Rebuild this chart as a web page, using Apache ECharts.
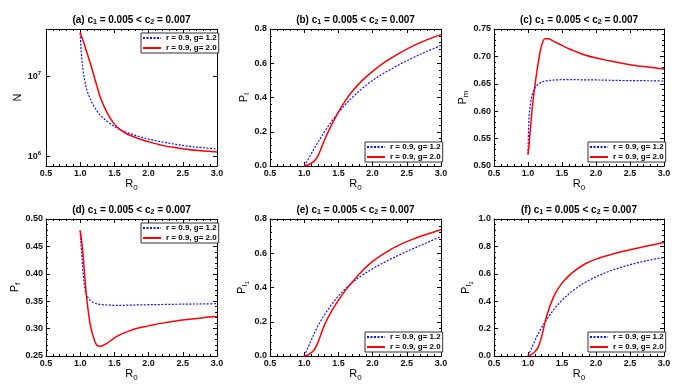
<!DOCTYPE html>
<html>
<head>
<meta charset="utf-8">
<script src="https://cdn.jsdelivr.net/npm/echarts@6/dist/echarts.min.js"></script>
<style>
  html, body { margin: 0; padding: 0; background: #fff; }
  #chart { width: 691px; height: 392px; }
</style>
</head>
<body>
<div id="chart"></div>
<script>
(function () {
  // shared R0 grid
  var r0 = [1.0, 1.01, 1.02, 1.04, 1.07, 1.1, 1.15, 1.2, 1.25, 1.3, 1.4, 1.5, 1.6, 1.7, 1.85, 2.0, 2.2, 2.4, 2.6, 2.8, 3.0];

  // (a) N
  var nBlue = [3.47e7, 2.34e7, 1.78e7, 1.2e7, 8.51e6, 6.61e6, 5.13e6, 4.22e6, 3.63e6, 3.2e6, 2.69e6, 2.34e6, 2.11e6, 1.95e6, 1.77e6, 1.63e6, 1.5e6, 1.4e6, 1.32e6, 1.27e6, 1.23e6];
  var nRed = [3.55e7, 3.35e7, 3.16e7, 2.82e7, 2.34e7, 1.95e7, 1.43e7, 1.02e7, 7.24e6, 5.25e6, 3.39e6, 2.51e6, 2.09e6, 1.86e6, 1.66e6, 1.51e6, 1.36e6, 1.27e6, 1.2e6, 1.16e6, 1.12e6];
  // (b) P_I
  var piBlue = [0, 0.007, 0.014, 0.028, 0.048, 0.069, 0.104, 0.138, 0.17, 0.202, 0.26, 0.312, 0.358, 0.399, 0.453, 0.5, 0.55, 0.594, 0.634, 0.67, 0.704];
  var piRed = [0, 0.0005, 0.0015, 0.004, 0.009, 0.016, 0.03, 0.058, 0.105, 0.155, 0.24, 0.315, 0.38, 0.435, 0.5, 0.553, 0.612, 0.661, 0.703, 0.738, 0.767];
  // (c) P_m
  var pmBlue = [0.521, 0.575, 0.597, 0.617, 0.633, 0.642, 0.649, 0.653, 0.655, 0.656, 0.657, 0.6575, 0.6575, 0.6575, 0.657, 0.657, 0.6565, 0.656, 0.6558, 0.6555, 0.655];
  var pmRed = [0.521, 0.532, 0.545, 0.575, 0.615, 0.645, 0.688, 0.72, 0.732, 0.732, 0.726, 0.72, 0.714, 0.709, 0.702, 0.697, 0.692, 0.687, 0.683, 0.68, 0.677];
  // (d) P_f
  var pfBlue = [0.479, 0.455, 0.44, 0.405, 0.372, 0.36, 0.351, 0.347, 0.345, 0.344, 0.343, 0.3425, 0.3425, 0.3428, 0.3432, 0.3436, 0.344, 0.3444, 0.3448, 0.345, 0.3455];
  var pfRed = [0.479, 0.47, 0.46, 0.437, 0.39, 0.35, 0.305, 0.282, 0.269, 0.268, 0.274, 0.283, 0.29, 0.295, 0.301, 0.305, 0.31, 0.314, 0.317, 0.32, 0.322];
  // (e) P_I1
  var pi1Blue = [0, 0.009, 0.018, 0.036, 0.063, 0.09, 0.134, 0.175, 0.21, 0.243, 0.3, 0.35, 0.392, 0.428, 0.472, 0.51, 0.553, 0.592, 0.628, 0.663, 0.698];
  var pi1Red = [0, 0.0005, 0.0015, 0.004, 0.01, 0.018, 0.038, 0.078, 0.133, 0.185, 0.262, 0.325, 0.382, 0.43, 0.498, 0.553, 0.607, 0.65, 0.684, 0.712, 0.737];
  // (f) P_I2
  var pi2Blue = [0, 0.011, 0.022, 0.044, 0.077, 0.11, 0.163, 0.207, 0.247, 0.284, 0.352, 0.407, 0.453, 0.492, 0.54, 0.578, 0.619, 0.652, 0.679, 0.701, 0.72];
  var pi2Red = [0, 0.001, 0.003, 0.008, 0.017, 0.03, 0.065, 0.14, 0.245, 0.333, 0.455, 0.532, 0.585, 0.627, 0.675, 0.707, 0.738, 0.764, 0.787, 0.808, 0.828];

  var seriesNames = ['r = 0.9, g= 1.2', 'r = 0.9, g= 2.0'];

  var F = '"Liberation Sans", Arial, Helvetica, sans-serif';

  var panels = [
    { tag: '(a)', yName: '{i|N}', blue: nBlue, red: nRed, log: true, min: 7.5e5, max: 3.9e7, legendTop: true, gap: 17 },
    { tag: '(b)', yName: '{i|P}{s|I}', blue: piBlue, red: piRed, min: 0, max: 0.8, step: 0.2, dec: 1, gap: 13 },
    { tag: '(c)', yName: '{i|P}{s|m}', blue: pmBlue, red: pmRed, min: 0.5, max: 0.75, step: 0.05, dec: 2, gap: 19 },
    { tag: '(d)', yName: '{i|P}{s|f}', blue: pfBlue, red: pfRed, min: 0.25, max: 0.5, step: 0.05, dec: 2, legendTop: true, gap: 22 },
    { tag: '(e)', yName: '{i|P}{s|I}{t|1}', blue: pi1Blue, red: pi1Red, min: 0, max: 0.8, step: 0.2, dec: 1, gap: 13 },
    { tag: '(f)', yName: '{i|P}{s|I}{t|2}', blue: pi2Blue, red: pi2Red, min: 0, max: 1.0, step: 0.2, dec: 1, gap: 16 }
  ];

  var colLeft = [46, 270, 494], colWidth = [171, 171, 170];
  var rowTop = [29, 219], H = 137;

  var nameRich = {
    i: { fontFamily: F, fontSize: 11, color: '#000' },
    s: { fontFamily: F, fontSize: 8, color: '#000', padding: [6, 0, 0, 0] },
    t: { fontFamily: F, fontSize: 6, color: '#000', padding: [11, 0, 0, 0] }
  };
  var titleRich = {
    b: { fontFamily: F, fontSize: 10, fontWeight: 'bold', color: '#000' },
    s: { fontFamily: F, fontSize: 7, fontWeight: 'bold', color: '#000', padding: [5, 0, 0, 0] }
  };
  var labelStyle = { fontFamily: F, fontSize: 9, fontWeight: 'bold', color: '#111' };
  var black = { color: '#000', width: 1 };

  var option = {
    backgroundColor: '#fff',
    animation: false,
    title: [], grid: [], xAxis: [], yAxis: [], legend: [], series: []
  };

  panels.forEach(function (p, k) {
    var left = colLeft[k % 3], w = colWidth[k % 3], top = rowTop[Math.floor(k / 3)];

    option.grid.push({ left: left, top: top, width: w, height: H, outerBoundsMode: 'none' });

    option.title.push({
      text: '{b|' + p.tag + ' c}{s|1}{b| = 0.005 < c}{s|2}{b| = 0.007}',
      left: left + w / 2, top: top - 15, textAlign: 'center', padding: 0,
      textStyle: { fontFamily: F, fontSize: 10, fontWeight: 'bold', rich: titleRich }
    });

    var xBase = {
      type: 'value', gridIndex: k, min: 0.5, max: 3, interval: 0.5,
      splitLine: { show: false },
      axisLine: { onZero: false, lineStyle: black },
      axisTick: { inside: true, length: 4, lineStyle: black },
      minorTick: { show: true, splitNumber: 5, length: 2, lineStyle: black }
    };
    option.xAxis.push(Object.assign({}, xBase, {
      position: 'bottom',
      name: '{i|R}{s|0}', nameLocation: 'middle', nameGap: 9,
      nameTextStyle: { rich: nameRich },
      axisLabel: Object.assign({ margin: 3, formatter: function (v) { return v.toFixed(1); } }, labelStyle)
    }));
    option.xAxis.push(Object.assign({}, xBase, { position: 'top', axisLabel: { show: false } }));

    var yBase;
    if (p.log) {
      yBase = {
        type: 'log', logBase: 10, gridIndex: k, min: p.min, max: p.max,
        splitLine: { show: false },
        axisLine: { onZero: false, lineStyle: black },
        axisTick: { inside: true, length: 4, lineStyle: black }
      };
    } else {
      yBase = {
        type: 'value', gridIndex: k, min: p.min, max: p.max, interval: p.step,
        splitLine: { show: false },
        axisLine: { onZero: false, lineStyle: black },
        axisTick: { inside: true, length: 4, lineStyle: black },
        minorTick: { show: true, splitNumber: 5, length: 2, lineStyle: black }
      };
    }
    var yLabel;
    if (p.log) {
      yLabel = Object.assign({
        margin: 5,
        formatter: function (v) {
          var lg = Math.log(v) / Math.LN10, e = Math.round(lg);
          return Math.abs(lg - e) < 1e-6 ? '{b|10}{p|' + e + '}' : '';
        },
        rich: {
          b: { fontFamily: F, fontSize: 9, fontWeight: 'bold', color: '#111' },
          p: { fontFamily: F, fontSize: 6, fontWeight: 'bold', color: '#111', padding: [0, 0, 6, 0] }
        }
      }, labelStyle);
    } else {
      var dec = p.dec;
      yLabel = Object.assign({ margin: 3, formatter: function (v) { return v.toFixed(dec); } }, labelStyle);
    }
    option.yAxis.push(Object.assign({}, yBase, {
      position: 'left',
      name: p.yName, nameLocation: 'middle', nameRotate: 90, nameGap: p.gap,
      nameTextStyle: { rich: nameRich },
      axisLabel: yLabel
    }));
    option.yAxis.push(Object.assign({}, yBase, { position: 'right', axisLabel: { show: false } }));

    option.legend.push({
      orient: 'vertical',
      left: left + w - 76,
      top: p.legendTop ? top + 4 : top + H - 24,
      data: seriesNames,
      itemWidth: 18, itemHeight: 8, itemGap: 2,
      padding: [1, 2, 1, 1],
      borderColor: '#333', borderWidth: 1, borderRadius: 0,
      backgroundColor: '#fff',
      selectedMode: false,
      itemStyle: { opacity: 0 },
      textStyle: { fontFamily: F, fontSize: 8, fontWeight: 'bold', color: '#000', lineHeight: 8 }
    });

    option.series.push({
      type: 'line', name: seriesNames[0], xAxisIndex: 2 * k, yAxisIndex: 2 * k,
      data: r0.map(function (x, i) { return [x, p.blue[i]]; }),
      symbol: 'none', smooth: 0.35,
      lineStyle: { color: '#1010ff', width: 1.2, type: [2, 1.5] },
      itemStyle: { color: '#1010ff' }
    });
    option.series.push({
      type: 'line', name: seriesNames[1], xAxisIndex: 2 * k, yAxisIndex: 2 * k,
      data: r0.map(function (x, i) { return [x, p.red[i]]; }),
      symbol: 'none', smooth: 0.35,
      lineStyle: { color: '#ff0000', width: 1.5, type: 'solid' },
      itemStyle: { color: '#ff0000' }
    });
  });

  var myChart = echarts.init(document.getElementById('chart'));
  myChart.setOption(option);
  window.addEventListener('resize', function () {
    myChart.resize();
  });
})();
</script>
</body>
</html>
